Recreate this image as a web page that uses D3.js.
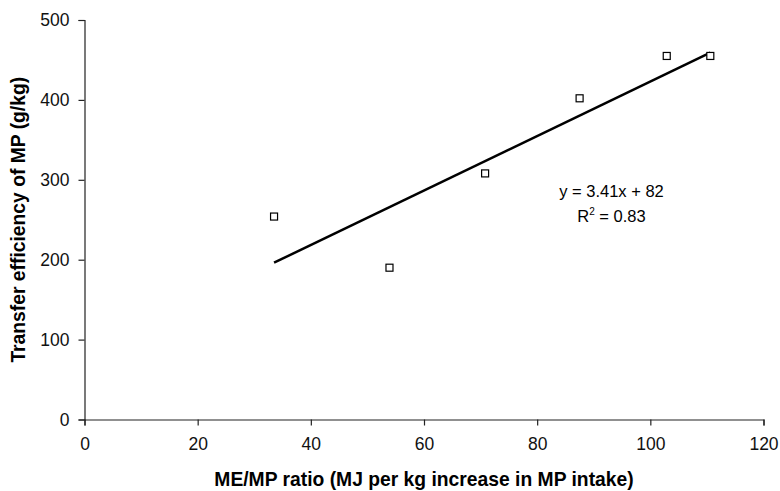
<!DOCTYPE html>
<html>
<head>
<meta charset="utf-8">
<script src="https://cdn.jsdelivr.net/npm/d3@7"></script>
<style>
  html, body { margin: 0; padding: 0; background: #fff; }
  svg { display: block; font-family: "Liberation Sans", Arial, sans-serif; }
</style>
</head>
<body>
<svg id="chart" width="780" height="491"></svg>
<script>
/* ---------- data ---------- */
const meMpRatio = [33.5, 53.9, 70.8, 87.5, 102.9, 110.6];
const transferEff = [254, 190, 308, 402, 455, 455];
const xTicks = [0, 20, 40, 60, 80, 100, 120];
const yTicks = [0, 100, 200, 300, 400, 500];
const trendSlope = 3.41;
const trendIntercept = 82;
const trendLabel = 'y = 3.41x + 82';
const r2Value = '0.83';

/* ---------- layout ---------- */
const svg = d3.select('#chart');
const x = d3.scaleLinear().domain([0, 120]).range([84.5, 763.5]);
const y = d3.scaleLinear().domain([0, 500]).range([419.5, 20]);

// axes
const xAxis = svg.append('g')
  .attr('transform', `translate(0,${y(0)})`)
  .call(d3.axisBottom(x).tickValues(xTicks).tickSize(6).tickPadding(12));
const yAxis = svg.append('g')
  .attr('transform', `translate(${x(0)},0)`)
  .call(d3.axisLeft(y).tickValues(yTicks).tickSize(6).tickPadding(9));

[xAxis, yAxis].forEach(a => {
  a.select('.domain').attr('stroke', '#222').attr('stroke-width', 1.2);
  a.selectAll('.tick line').attr('stroke', '#222').attr('stroke-width', 1.2);
  a.selectAll('.tick text')
    .attr('fill', '#111')
    .style('font-size', '17.5px')
    .style('font-family', '"Liberation Sans", Arial, sans-serif');
});

// axis titles
svg.append('text')
  .attr('x', (x(0) + x(120)) / 2)
  .attr('y', 486)
  .attr('text-anchor', 'middle')
  .style('font-size', '19.3px')
  .style('font-weight', 'bold')
  .text('ME/MP ratio (MJ per kg increase in MP intake)');

svg.append('text')
  .attr('transform', `translate(25,${(y(0) + y(500)) / 2}) rotate(-90)`)
  .attr('text-anchor', 'middle')
  .style('font-size', '19.3px')
  .style('font-weight', 'bold')
  .text('Transfer efficiency of MP (g/kg)');

/* ---------- trend line ---------- */
const [xMin, xMax] = d3.extent(meMpRatio);
svg.append('line')
  .attr('x1', x(xMin)).attr('y1', y(trendSlope * xMin + trendIntercept))
  .attr('x2', x(xMax)).attr('y2', y(trendSlope * xMax + trendIntercept))
  .attr('stroke', '#000')
  .attr('stroke-width', 2.5);

/* ---------- points ---------- */
const pts = meMpRatio.map((v, i) => ({ x: v, y: transferEff[i] }));
const s = 7;
svg.append('g').selectAll('rect')
  .data(pts)
  .join('rect')
  .attr('x', d => x(d.x) - s / 2)
  .attr('y', d => y(d.y) - s / 2)
  .attr('width', s)
  .attr('height', s)
  .attr('fill', '#fff')
  .attr('stroke', '#000')
  .attr('stroke-width', 1.2);

/* ---------- equation label ---------- */
svg.append('text')
  .attr('x', 611.5).attr('y', 196.5)
  .attr('text-anchor', 'middle')
  .style('font-size', '16.5px')
  .text(trendLabel);

const r2 = svg.append('text')
  .attr('x', 611.5).attr('y', 221.5)
  .attr('text-anchor', 'middle')
  .style('font-size', '16.5px');
r2.append('tspan').text('R');
r2.append('tspan').attr('dy', -7).style('font-size', '10px').text('2');
r2.append('tspan').attr('dy', 7).text(' = ' + r2Value);
</script>
</body>
</html>
